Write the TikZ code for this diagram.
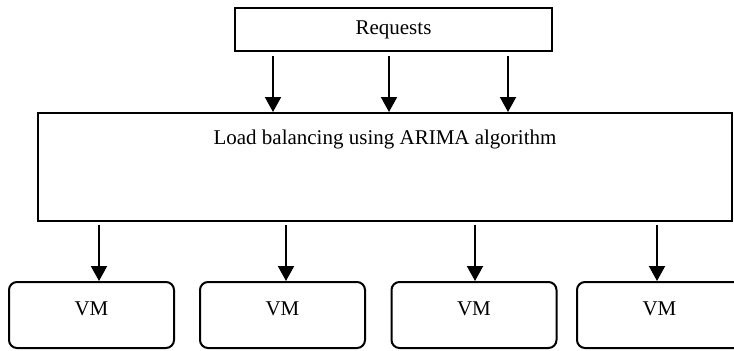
\documentclass[tikz,border=0pt]{standalone}
\usepackage{fontspec}
\setmainfont{Liberation Serif}
\usetikzlibrary{arrows.meta}

\tikzset{
  box/.style={draw, line width=1pt, inner sep=0pt},
  vmbox/.style={box, rounded corners=4pt, minimum width=82.5pt, minimum height=33pt},
  arr/.style={line width=1pt, -{Triangle[width=8pt,length=7.5pt]}}
}

\begin{document}
\begin{tikzpicture}[x=0.5pt, y=-0.5pt, font=\fontsize{10.5}{12}\selectfont]
\useasboundingbox (0,0) rectangle (734,350);

% requests
\node (req) [box, minimum width=158.5pt, minimum height=21.5pt] at (393.5,29.5) {Requests};

% load balancer
\node (lb) [box, minimum width=347pt, minimum height=54pt,
  label={[anchor=center, yshift=-13.5pt]north:Load balancing using ARIMA algorithm}] at (385,167) {};

\foreach \x in {273,389,508}
  \draw [arr] ([yshift=-2pt]req.south -| \x,0) -- (lb.north -| \x,0);

% virtual machines
\foreach \c/\a [count=\i] in {91.5/99, 282.5/286, 474/475, 659.5/657} {
  \node (vm\i) [vmbox, label={[yshift=3pt]center:VM}] at (\c,315) {};
  \draw [arr] ([yshift=-1.5pt]lb.south -| \a,0) -- (vm\i.north -| \a,0);
}

\end{tikzpicture}
\end{document}
